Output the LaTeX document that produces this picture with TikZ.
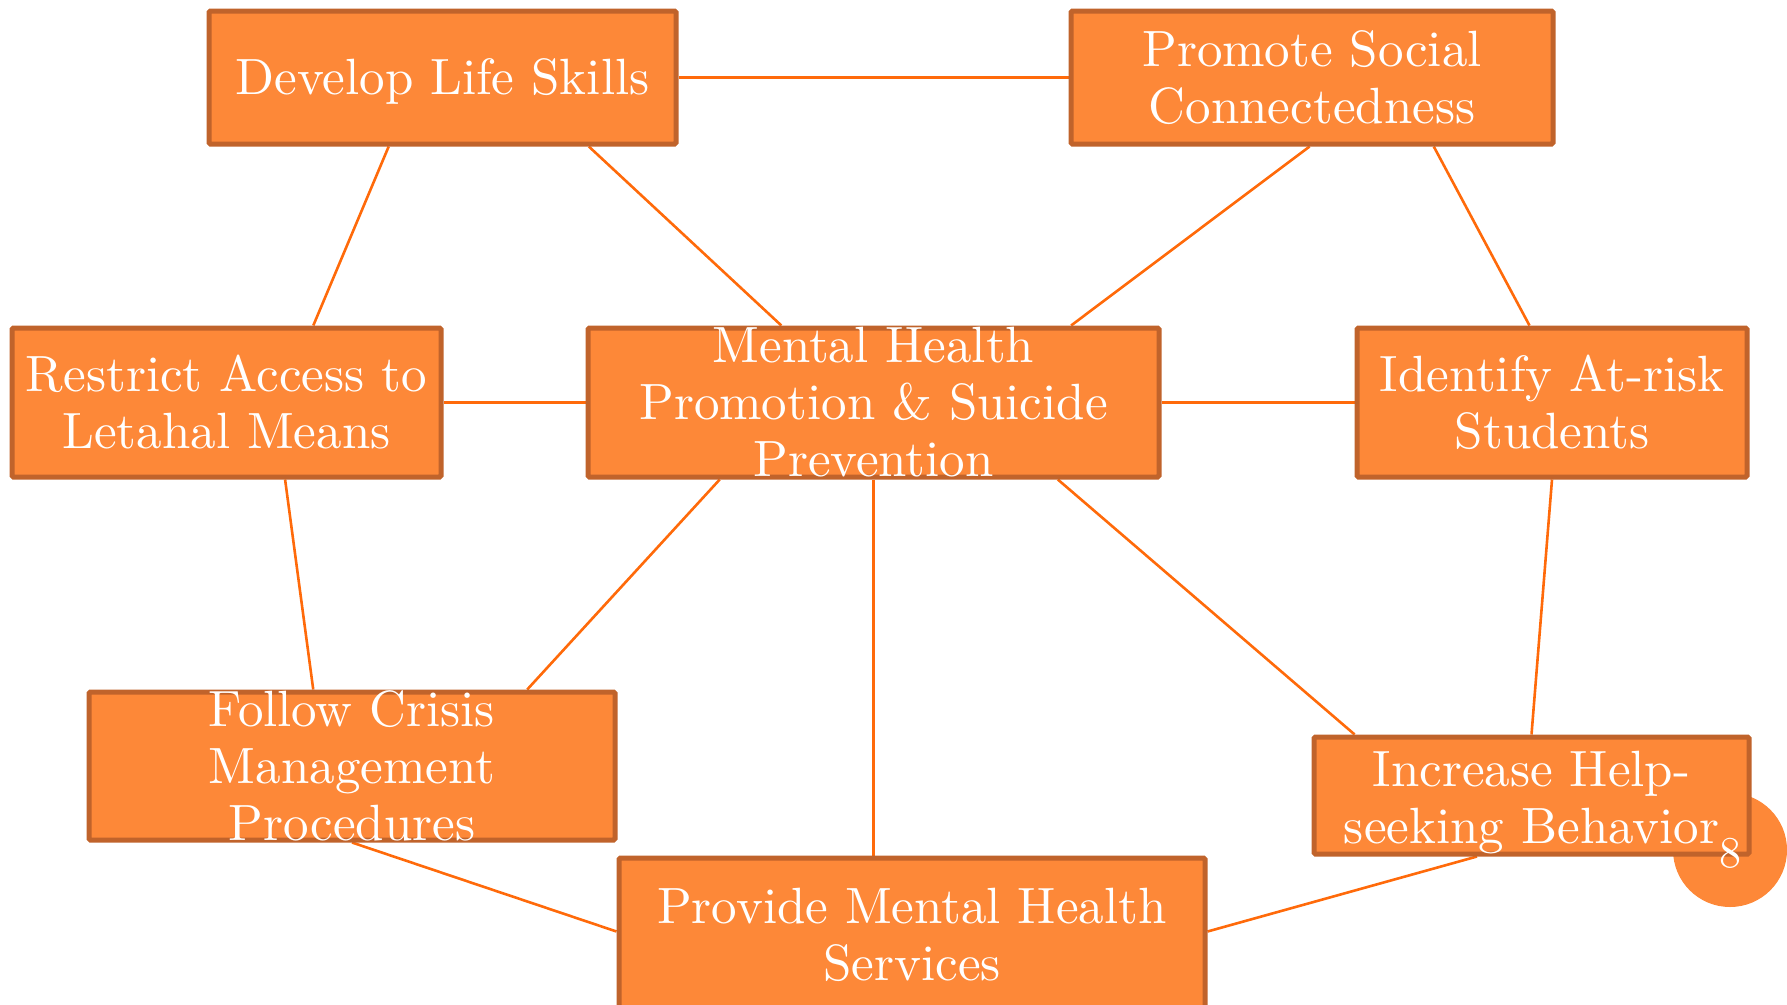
\documentclass[tikz,border=0pt]{standalone}
\usepackage{fontspec}
\setmainfont{lmroman10-regular}[Extension=.otf, BoldFont=lmroman10-bold]
\usetikzlibrary{calc}
\pgfdeclarelayer{background}
\pgfsetlayers{background,main}

\definecolor{boxfill}{RGB}{253,136,56}
\definecolor{boxedge}{RGB}{192,99,43}
\definecolor{linkcol}{RGB}{255,106,10}

\tikzset{
  box/.style={draw=boxedge, fill=boxfill, line width=5pt, rounded corners=1.5pt,
    inner sep=0pt, rectangle},
  label/.style={text=white, align=center, inner sep=0pt,
    font=\fontsize{51}{57}\selectfont},
  link/.style={draw=linkcol, line width=2.6pt},
}

\begin{document}
\begin{tikzpicture}[x=1pt, y=-1pt]
\useasboundingbox (0,0) rectangle (1787,1004);

% page-number badge, partly covered by the box in front of it
\fill[boxfill] (1730,850) circle (57);

% boxes (centre, width, height)
\node[box, minimum width=467pt, minimum height=133pt] (dls) at (442.5,77.5) {};
\node[box, minimum width=482pt, minimum height=133pt] (psc) at (1312,77.5) {};
\node[box, minimum width=429pt, minimum height=149pt] (rst) at (226.5,402.5) {};
\node[box, minimum width=571pt, minimum height=149pt] (mh)  at (873.5,402.5) {};
\node[box, minimum width=390pt, minimum height=149pt] (idr) at (1552,402.5) {};
\node[box, minimum width=526pt, minimum height=148pt] (fcm) at (352,766) {};
\node[box, minimum width=435pt, minimum height=117pt] (ihs) at (1531.5,795.5) {};
\node[box, minimum width=586pt, minimum height=153pt] (pmh) at (912,934.5) {};

% box texts
\node[label] at ([yshift=-4pt]dls.center) {Develop Life Skills};
\node[label] at (psc) {Promote Social\\Connectedness};
\node[label] at (rst) {Restrict Access to\\Letahal Means};
\node[label] at (mh)  {Mental Health\\Promotion \& Suicide\\Prevention};
\node[label] at (idr) {Identify At-risk\\Students};
\node[label] at (fcm) {Follow Crisis\\Management\\Procedures};
\node[label] at ([yshift=-7pt]ihs.center) {Increase Help-\\seeking Behavior};
\node[label] at (pmh) {Provide Mental Health\\Services};

\node[text=white, inner sep=0pt, font=\fontsize{44}{50}\selectfont] (pg) at (1730,853) {8};

% connectors
\begin{pgfonlayer}{background}
\draw[link] (dls.east) -- (psc.west);
\draw[link] ($(dls.south west)!0.386!(dls.south east)$) -- ($(rst.north west)!0.70!(rst.north east)$);
\draw[link] ($(dls.south west)!0.81!(dls.south east)$) -- ($(mh.north west)!0.34!(mh.north east)$);
\draw[link] ($(psc.south west)!0.495!(psc.south east)$) -- ($(mh.north west)!0.843!(mh.north east)$);
\draw[link] ($(psc.south west)!0.75!(psc.south east)$) -- ($(idr.north west)!0.443!(idr.north east)$);
\draw[link] (rst.east) -- (mh.west);
\draw[link] (mh.east) -- (idr.west);
\draw[link] ($(rst.south west)!0.635!(rst.south east)$) -- ($(fcm.north west)!0.427!(fcm.north east)$);
\draw[link] ($(mh.south west)!0.233!(mh.south east)$) -- ($(fcm.north west)!0.83!(fcm.north east)$);
\draw[link] (mh.south) -- (mh.south |- pmh.north);
\draw[link] ($(mh.south west)!0.82!(mh.south east)$) -- ($(ihs.north west)!0.098!(ihs.north east)$);
\draw[link] (idr.south) -- (ihs.north);
\draw[link] (fcm.south) -- ([yshift=3pt]pmh.west);
\draw[link] ([yshift=3pt]pmh.east) -- ($(ihs.south west)!0.376!(ihs.south east)$);
\end{pgfonlayer}
\end{tikzpicture}
\end{document}
